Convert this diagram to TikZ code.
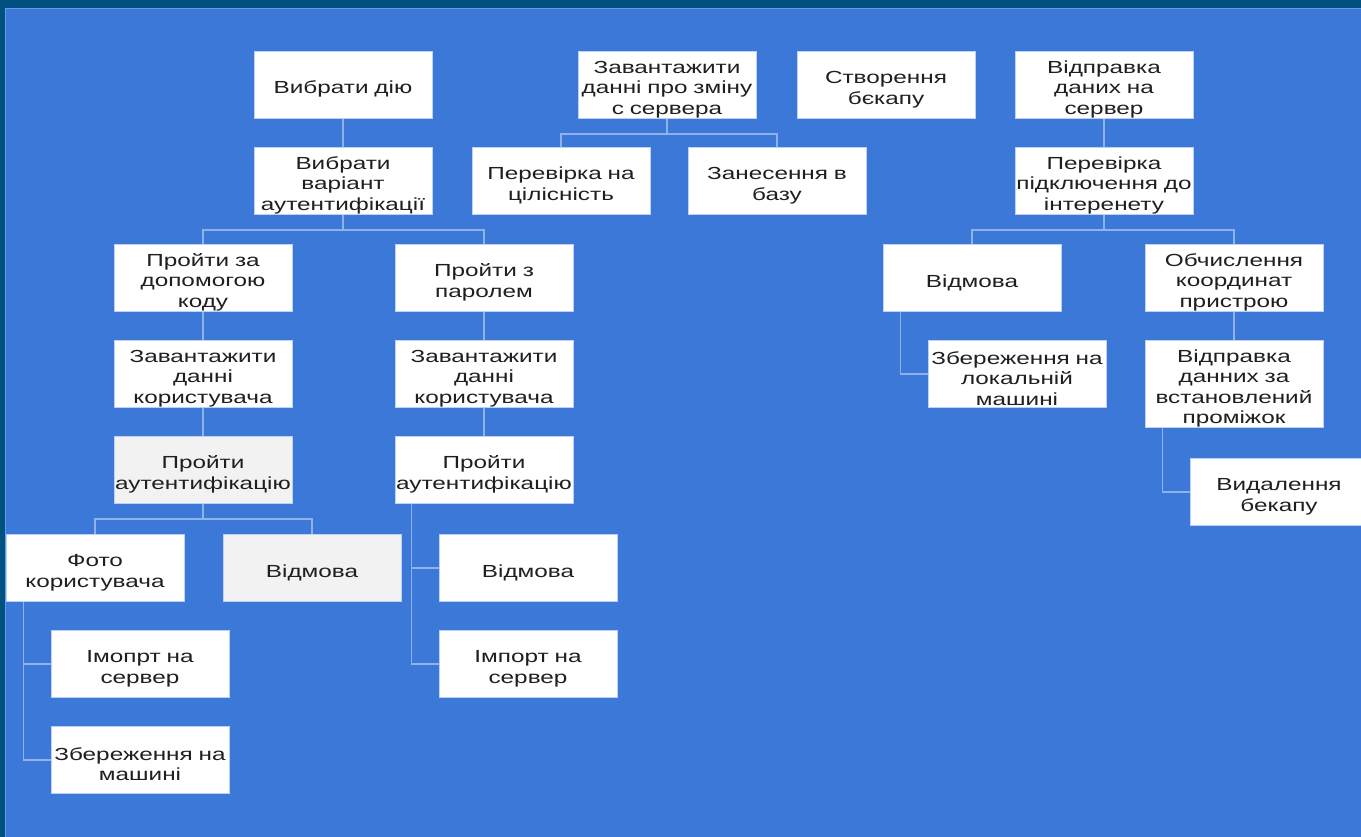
\documentclass[tikz,border=0pt]{standalone}
\usepackage{fontspec}
\setmainfont{Liberation Sans}[FakeStretch=1.39]
\definecolor{frame}{HTML}{005080}
\definecolor{sheet}{HTML}{3C78D8}
\definecolor{rim}{HTML}{6A9BE8}
\definecolor{link}{HTML}{8FB2EC}
\definecolor{ink}{HTML}{1F1F1F}
\tikzset{
  blk/.style={draw=link!60!white, line width=0.8pt, fill=white, text width=178pt,
    minimum height=67pt, inner sep=0pt, align=center, text=ink,
    font=\fontsize{17.5}{20.5}\selectfont, execute at begin node={\rule{0pt}{21.5pt}}},
  dim/.style={blk, fill=black!5},
  wire/.style={link, line width=1.4pt}
}
\begin{document}
\begin{tikzpicture}[x=1pt, y=-1pt]
  \useasboundingbox (0,0) rectangle (1361,837);
  \fill[frame] (0,0) rectangle (1361,837);
  \fill[sheet] (5,8) rectangle (1361,837);
  \draw[rim, line width=1.2pt] (5.6,837) -- (5.6,8.6) -- (1361,8.6);

  \node[blk] (act) at (343,85) {Вибрати дію};
  \node[blk] (var) at (343,181) {Вибрати\\варіант\\аутентифікації};
  \node[blk] (code) at (203,278) {Пройти за\\допомогою\\коду};
  \node[blk] (pwd) at (484,278) {Пройти з\\паролем};
  \node[blk] (load1) at (203,374) {Завантажити\\данні\\користувача};
  \node[blk] (load2) at (484,374) {Завантажити\\данні\\користувача};
  \node[dim] (auth1) at (203,470) {Пройти\\аутентифікацію};
  \node[blk] (auth2) at (484,470) {Пройти\\аутентифікацію};
  \node[blk] (photo) at (95,568) {Фото\\користувача};
  \node[dim] (deny1) at (312,568) {Відмова};
  \node[blk] (deny2) at (528,568) {Відмова};
  \node[blk] (imp1) at (140,664) {Імопрт на\\сервер};
  \node[blk] (imp2) at (528,664) {Імпорт на\\сервер};
  \node[blk] (save1) at (140,760) {Збереження на\\машині};

  \node[blk] (upd) at (667,85) {Завантажити\\данні про зміну\\с сервера};
  \node[blk] (check) at (561,181) {Перевірка на\\цілісність};
  \node[blk] (store) at (777,181) {Занесення в\\базу};
  \node[blk] (backup) at (886,85) {Створення\\бєкапу};

  \node[blk] (send) at (1104,85) {Відправка\\даних на\\сервер};
  \node[blk] (inet) at (1104,181) {Перевірка\\підключення до\\інтеренету};
  \node[blk] (deny3) at (972,278) {Відмова};
  \node[blk] (coords) at (1234,278) {Обчислення\\координат\\пристрою};
  \node[blk] (save2) at (1017,374) {Збереження на\\локальній\\машині};
  \node[blk, minimum height=87pt] (push) at (1234,384) {Відправка\\данних за\\встановлений\\проміжок};
  \node[blk] (del) at (1279,492) {Видалення\\бекапу};

  \draw[wire] (act) -- (var);
  \draw[wire] (var.south) -- ++(0,15) coordinate (j1) -| (code.north) (j1) -| (pwd.north);
  \draw[wire] (code) -- (load1);
  \draw[wire] (load1) -- (auth1);
  \draw[wire] (pwd) -- (load2);
  \draw[wire] (load2) -- (auth2);
  \draw[wire] (auth1.south) -- ++(0,15) coordinate (j2) -| (photo.north) (j2) -| (deny1.north);
  \draw[wire] ([xshift=18pt]photo.south west) |- (imp1.west);
  \draw[wire] ([xshift=18pt]photo.south west) |- (save1.west);
  \draw[wire] ([xshift=17pt]auth2.south west) |- (deny2.west);
  \draw[wire] ([xshift=17pt]auth2.south west) |- (imp2.west);

  \draw[wire] (upd.south) -- ++(0,15) coordinate (j3) -| (check.north) (j3) -| (store.north);

  \draw[wire] (send) -- (inet);
  \draw[wire] (inet.south) -- ++(0,15) coordinate (j4) -| (deny3.north) (j4) -| (coords.north);
  \draw[wire] ([xshift=18pt]deny3.south west) |- (save2.west);
  \draw[wire] (coords) -- (push);
  \draw[wire] ([xshift=18pt]push.south west) |- (del.west);
\end{tikzpicture}
\end{document}
